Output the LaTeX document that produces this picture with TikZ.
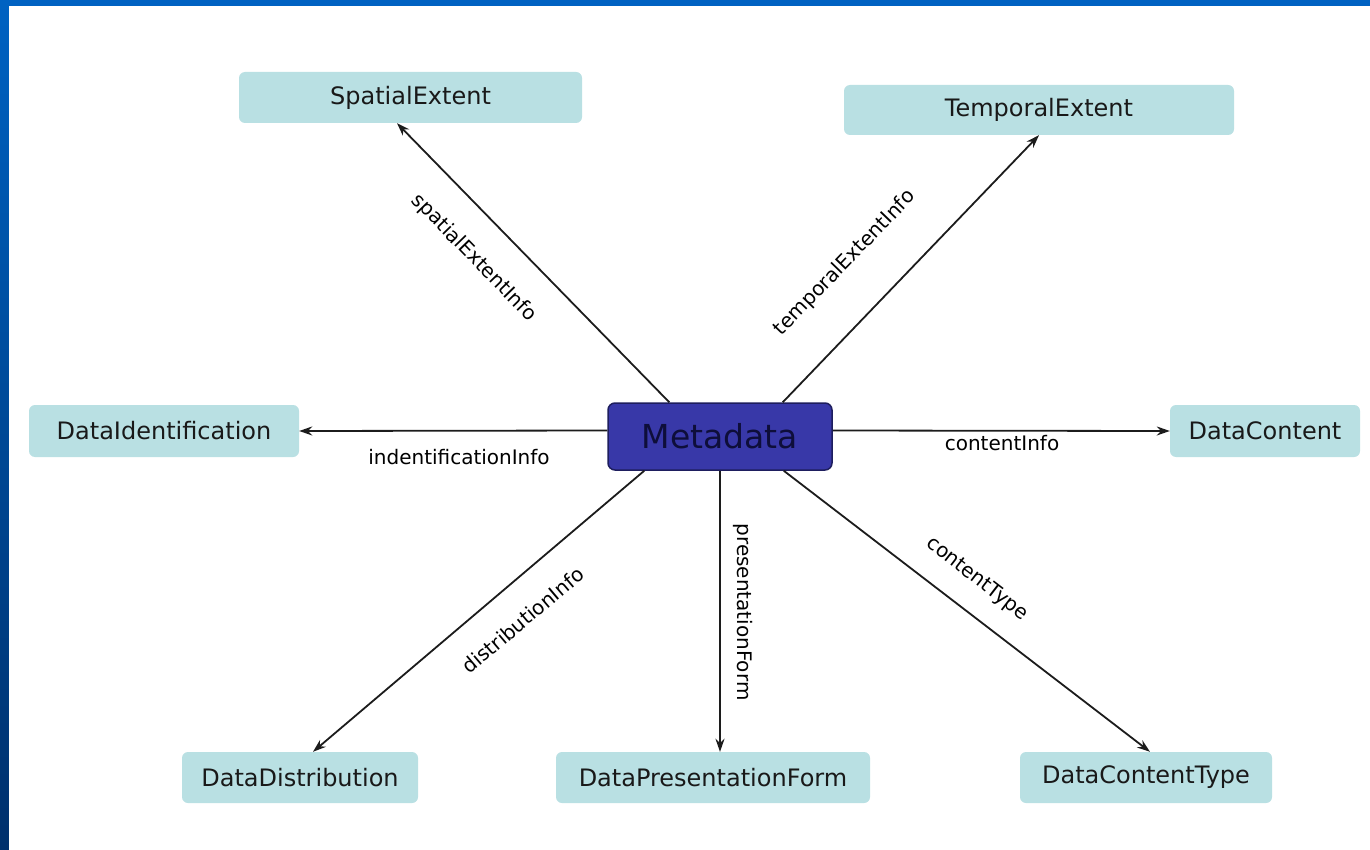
\documentclass[tikz,border=0pt]{standalone}
\usepackage{fontspec}
\setmainfont{DejaVu Sans}
\usetikzlibrary{arrows.meta,calc}
\definecolor{slideblue}{HTML}{0062C2}
\definecolor{slidedark}{HTML}{00306C}
\definecolor{boxfill}{HTML}{B9E0E3}
\definecolor{metafill}{HTML}{3838A8}
\definecolor{metaborder}{HTML}{1E1E5E}
\definecolor{metatext}{HTML}{0E0E3A}
\definecolor{linecol}{HTML}{1C1C1C}
\tikzset{
  classbox/.style={fill=boxfill, rounded corners=6pt, inner sep=0pt,
    font=\fontsize{24}{28}\selectfont, text=black!90},
  metabox/.style={fill=metafill, draw=metaborder, line width=1.5pt, rounded corners=7pt,
    inner sep=0pt, font=\fontsize{33}{38}\selectfont, text=metatext},
  conn/.style={draw=linecol, line width=1.8pt, -{Stealth[length=13pt,width=9pt]}},
  elabel/.style={font=\fontsize{20}{24}\selectfont, text=black, inner sep=0pt}
}
\begin{document}
\begin{tikzpicture}[x=1pt,y=-1pt]
\useasboundingbox (0,0) rectangle (1370,850);
\fill[top color=slideblue, bottom color=slidedark] (0,0) rectangle (9,850);
\fill[slideblue] (0,0) rectangle (1370,6);
\fill[white] (9,6) rectangle (1370,850);

\node[classbox, minimum width=343pt, minimum height=51pt] (spatial) at (410.5,97.5) {SpatialExtent};
\node[classbox, minimum width=390pt, minimum height=50pt] (temporal) at (1039,110) {TemporalExtent};
\node[classbox, minimum width=270pt, minimum height=52pt] (ident) at (164,431) {DataIdentification};
\node[classbox, minimum width=190pt, minimum height=52pt] (content) at (1265,431) {DataContent};
\node[classbox, minimum width=236pt, minimum height=51pt] (distrib) at (300,777.5) {DataDistribution};
\node[classbox, minimum width=314pt, minimum height=51pt] (present) at (713,777.5) {DataPresentationForm};
\node[classbox, minimum width=252pt, minimum height=51pt] (ctype) at (1146,777.5) {DataContentType};
\node[metabox, minimum width=224pt, minimum height=67pt] (meta) at (720,436.5) {Metadata};

\draw[conn] ([xshift=62pt]meta.north west) -- ([xshift=-13.5pt]spatial.south);
\draw[conn] ([xshift=-50pt]meta.north east) -- (temporal.south);
\draw[conn] ([yshift=6pt]meta.west) -- (ident.east);
\draw[conn] ([yshift=6pt]meta.east) -- (content.west);
\draw[conn] ([xshift=37pt]meta.south west) -- ([xshift=13pt]distrib.north);
\draw[conn] (meta.south) -- (meta.south |- present.north);
\draw[conn] ([xshift=-49pt]meta.south east) -- ([xshift=4pt]ctype.north);

\node[elabel, rotate=-45.8] (lspatial) at (474,258) {spatialExtentInfo};
\node[elabel, rotate=46] (ltemporal) at (845,263) {temporalExtentInfo};
\node[elabel] (lident) at (459,457) {indentificationInfo};
\node[elabel] (lcontent) at (1002,443) {contentInfo};
\node[elabel, rotate=40.2] (ldistrib) at (523,620) {distributionInfo};
\node[elabel, rotate=-90] (lpresent) at (743,612) {presentationForm};
\node[elabel, rotate=-37.6] (lctype) at (977,579) {contentType};
\end{tikzpicture}
\end{document}
